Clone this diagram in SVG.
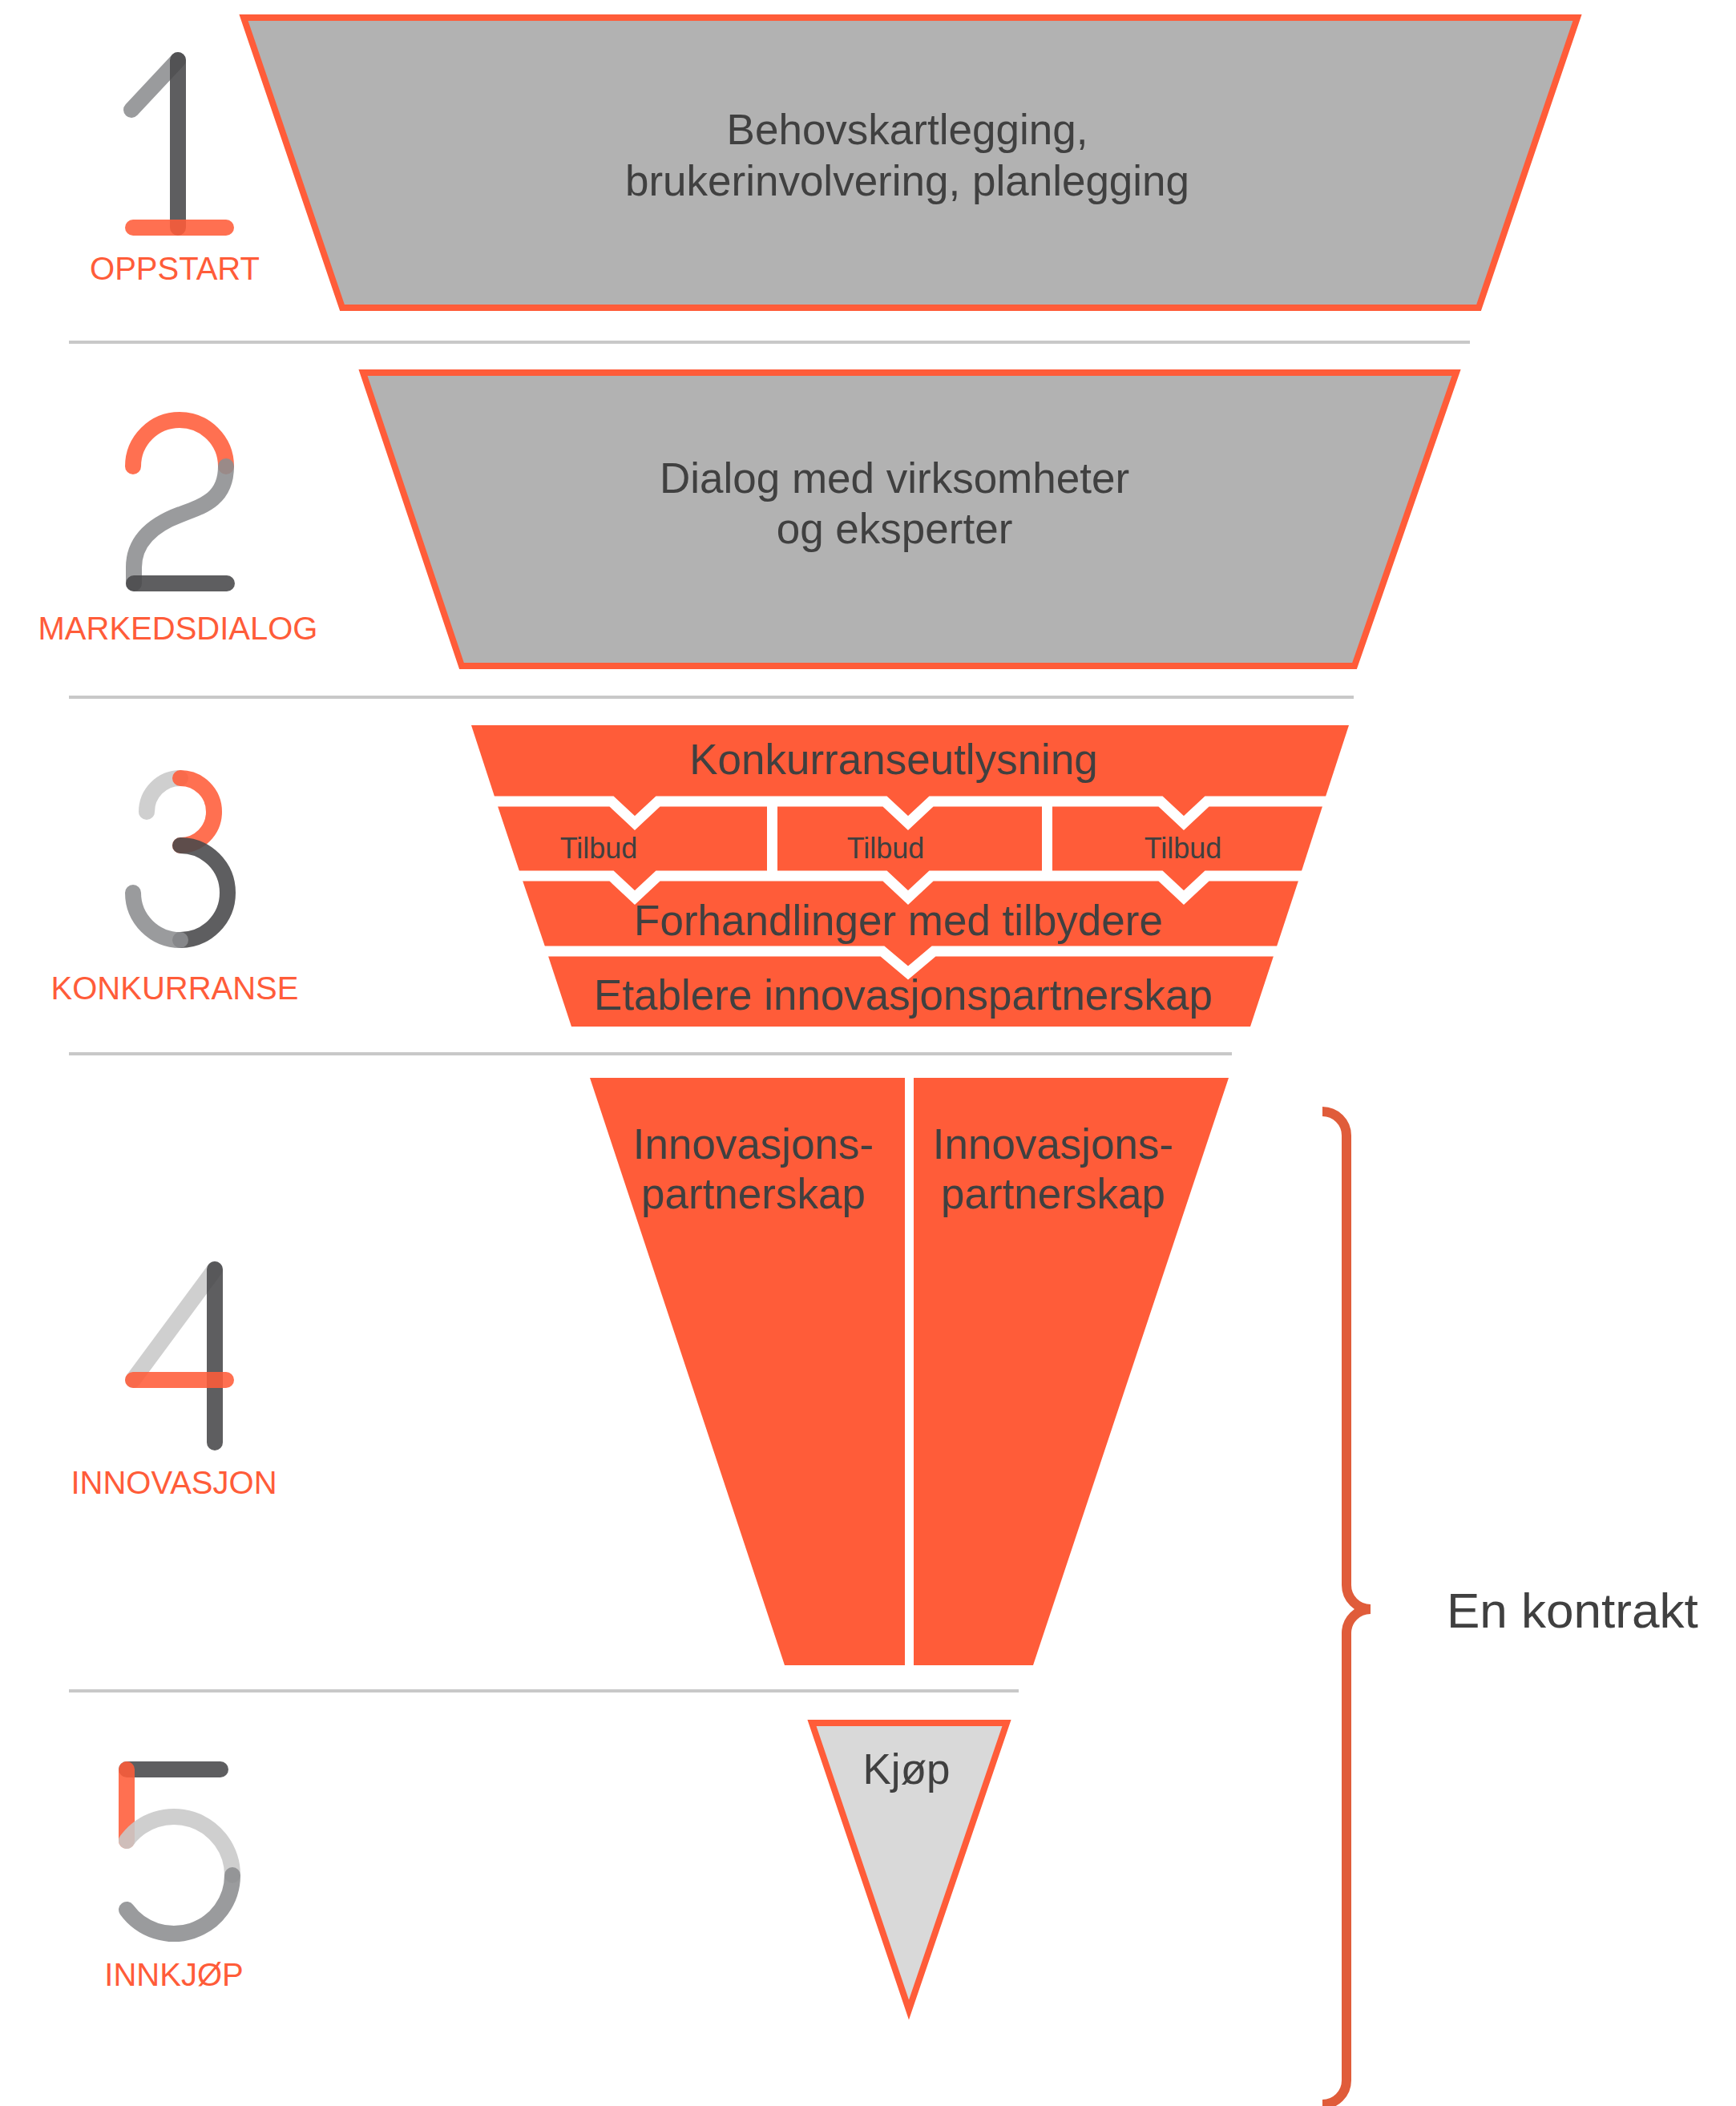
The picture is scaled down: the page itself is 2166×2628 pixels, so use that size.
<svg xmlns="http://www.w3.org/2000/svg" width="2166" height="2628" viewBox="0 0 2166 2628">
<style>
.bg{fill:#ffffff}
.gray{fill:#b2b2b2;stroke:#ff5c39;stroke-width:8;stroke-linejoin:miter}
.light{fill:#d9d9d9;stroke:#ff5c39;stroke-width:8;stroke-linejoin:miter}
.orange{fill:#ff5c39}
.sep{stroke:#c8c8c8;stroke-width:4;fill:none}
.chev{fill:none;stroke:#ffffff;stroke-width:13;stroke-linejoin:miter}
.t{font-family:"Liberation Sans",Arial,sans-serif;fill:#404040;text-anchor:middle;font-size:53px}
.ts{font-family:"Liberation Sans",Arial,sans-serif;fill:#404040;text-anchor:middle;font-size:36px}
.lbl{font-family:"Liberation Sans",Arial,sans-serif;fill:#ff5c39;text-anchor:middle;font-size:40px}
.s{fill:none;stroke-width:20;stroke-linecap:round;opacity:0.88}
.so{stroke:#ff5c39}
.sd{stroke:#48484a}
.sm{stroke:#8c8d90}
.sl{stroke:#c8c8c8}
.brace{fill:none;stroke:#e05c3a;stroke-width:12}
</style>
<rect class="bg" x="0" y="0" width="2166" height="2628"/>

<g id="separators">
<line class="sep" x1="86" y1="427" x2="1834" y2="427"/>
<line class="sep" x1="86" y1="870" x2="1689" y2="870"/>
<line class="sep" x1="86" y1="1315" x2="1537" y2="1315"/>
<line class="sep" x1="86" y1="2110" x2="1271" y2="2110"/>
</g>

<g id="phase1">
<path class="s sm" d="M164 137 L222 75"/>
<path class="s sd" d="M222 75 V284"/>
<path class="s so" d="M166 284 H282"/>
<text class="lbl" x="218" y="349">OPPSTART</text>
</g>
<g id="phase2">
<path class="s so" d="M166 582 A58 58 0 0 1 282 582"/>
<path class="s sm" d="M282 582 C282 622 255 631 225 642 C190 655 167 676 167 708 L167 728"/>
<path class="s sd" d="M167 728 H283"/>
<text class="lbl" x="222" y="798">MARKEDSDIALOG</text>
</g>
<g id="phase3">
<path class="s sl" d="M183 1013 A42 42 0 0 1 225 971"/>
<path class="s so" d="M225 971 A42 42 0 0 1 225 1055"/>
<path class="s sd" d="M225 1055 A59 59 0 0 1 225 1173"/>
<path class="s sm" d="M225 1173 A59 59 0 0 1 166 1114"/>
<text class="lbl" x="218" y="1247">KONKURRANSE</text>
</g>
<g id="phase4">
<path class="s sl" d="M268 1584 L166 1722"/>
<path class="s sd" d="M268 1584 V1800"/>
<path class="s so" d="M166 1722 H282"/>
<text class="lbl" x="217" y="1864">INNOVASJON</text>
</g>
<g id="phase5">
<path class="s sd" d="M158 2208 H275"/>
<path class="s so" d="M158 2208 V2297"/>
<path class="s sl" d="M158 2297 A73 73 0 0 1 290 2340"/>
<path class="s sm" d="M290 2340 A73 73 0 0 1 158 2383"/>
<text class="lbl" x="217" y="2478">INNKJØP</text>
</g>

<g id="oppstart-box">
<polygon class="gray" points="304,22 1968,22 1845,384 427,384"/>
<text class="t" x="1132" y="180">Behovskartlegging,</text>
<text class="t" x="1132" y="244">brukerinvolvering, planlegging</text>
</g>

<g id="markedsdialog-box">
<polygon class="gray" points="453,465 1817,465 1690,831 576,831"/>
<text class="t" x="1116" y="615">Dialog med virksomheter</text>
<text class="t" x="1116" y="678">og eksperter</text>
</g>

<g id="konkurranseutlysning">
<polygon class="orange" points="588,905 1683,905 1652,1000 619,1000"/>
<text class="t" x="1115" y="966">Konkurranseutlysning</text>
</g>
<g id="tilbud-1">
<polygon class="orange" points="619,1000 957,1000 957,1093 650,1093"/>
<text class="ts" x="747" y="1071">Tilbud</text>
</g>
<g id="tilbud-2">
<polygon class="orange" points="970,1000 1300,1000 1300,1093 970,1093"/>
<text class="ts" x="1105" y="1071">Tilbud</text>
</g>
<g id="tilbud-3">
<polygon class="orange" points="1313,1000 1652,1000 1622,1093 1313,1093"/>
<text class="ts" x="1476" y="1071">Tilbud</text>
</g>
<g id="forhandlinger">
<polygon class="orange" points="650,1093 1622,1093 1591,1187 682,1187"/>
<text class="t" x="1121" y="1167">Forhandlinger med tilbydere</text>
</g>
<g id="etablere">
<polygon class="orange" points="682,1187 1591,1187 1560,1281 713,1281"/>
<text class="t" x="1127" y="1260">Etablere innovasjonspartnerskap</text>
</g>

<g id="connectors">
<path class="chev" d="M560 1000 H763 L792 1027 L821 1000 H1104 L1133 1027 L1162 1000 H1448 L1477 1027 L1506 1000 H1720"/>
<path class="chev" d="M600 1093 H763 L792 1120 L821 1093 H1104 L1133 1120 L1162 1093 H1448 L1477 1120 L1506 1093 H1680"/>
<path class="chev" d="M640 1187 H1101 L1133 1214 L1165 1187 H1640"/>
</g>

<g id="partnerskap-1">
<polygon class="orange" points="736,1345 1129,1345 1129,2078 979,2078"/>
<text class="t" x="940" y="1446">Innovasjons-</text>
<text class="t" x="940" y="1508">partnerskap</text>
</g>
<g id="partnerskap-2">
<polygon class="orange" points="1140,1345 1533,1345 1289,2078 1140,2078"/>
<text class="t" x="1314" y="1446">Innovasjons-</text>
<text class="t" x="1314" y="1508">partnerskap</text>
</g>

<g id="kjop">
<polygon class="light" points="1013,2150 1256,2150 1134,2508"/>
<text class="t" x="1131" y="2226">Kjøp</text>
</g>

<g id="kontrakt">
<path class="brace" d="M1650 1387 A30 30 0 0 1 1680 1417 L1680 1978 A30 30 0 0 0 1710 2008 A30 30 0 0 0 1680 2038 L1680 2596 A30 30 0 0 1 1650 2626"/>
<text class="t" x="1805" y="2031" style="text-anchor:start;font-size:62px">En kontrakt</text>
</g>
</svg>
